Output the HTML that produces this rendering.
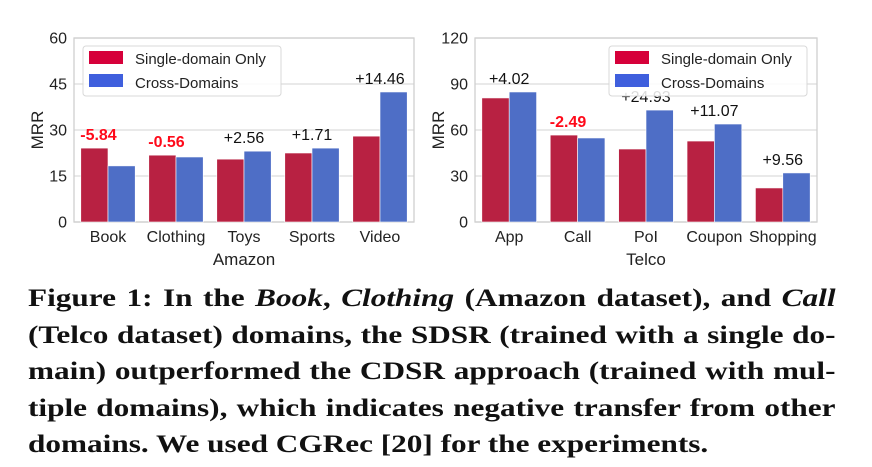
<!DOCTYPE html>
<html><head><meta charset="utf-8"><style>
body{margin:0;background:#fff;width:872px;height:467px;overflow:hidden;position:relative}
svg text{font-family:"Liberation Sans","DejaVu Sans",sans-serif}
.cap{position:absolute;left:28px;width:646px;font-family:"Liberation Serif",serif;font-weight:bold;font-size:25px;color:#111;line-height:36.5px;transform:scaleX(1.25);transform-origin:0 0}
.cap div{text-align:justify;text-align-last:justify;white-space:nowrap;height:36.5px}
.cap div.last{text-align-last:left}
</style></head><body>
<svg id="chart" width="872" height="280" style="position:absolute;left:0;top:0"></svg>
<div class="cap" style="top:281px">
<div>Figure 1: In the <i>Book</i>, <i>Clothing</i> (Amazon dataset), and <i>Call</i></div>
<div>(Telco dataset) domains, the SDSR (trained with a single do-</div>
<div>main) outperformed the CDSR approach (trained with mul-</div>
<div>tiple domains), which indicates negative transfer from other</div>
<div class="last">domains. We used CGRec [20] for the experiments.</div>
</div>
<script>
const amazonCats=["Book","Clothing","Toys","Sports","Video"];
const amazonSingle=[24.1,21.8,20.5,22.5,28.0];
const amazonCross=[18.3,21.2,23.1,24.1,42.4];
const amazonLabels=["-5.84","-0.56","+2.56","+1.71","+14.46"];
const amazonTicks=[0,15,30,45,60];
const telcoCats=["App","Call","PoI","Coupon","Shopping"];
const telcoSingle=[80.9,56.7,47.6,52.8,22.2];
const telcoCross=[84.8,54.8,73.0,63.9,32.0];
const telcoLabels=["+4.02","-2.49","+24.93","+11.07","+9.56"];
const telcoTicks=[0,30,60,90,120];

const NS="http://www.w3.org/2000/svg";
const svg=document.getElementById('chart');
function mk(tag,attrs,parent,txt){const e=document.createElementNS(NS,tag);for(const k in attrs)e.setAttribute(k,attrs[k]);if(txt!==undefined)e.textContent=txt;(parent||svg).appendChild(e);return e;}

function drawChart(o){
  const g=mk('g',{});
  
  
  const L=o.left,R=o.right,T=38,B=222,max=o.ticks[o.ticks.length-1];
  const y=v=>B-(v/max)*(B-T);
  const gw=(R-L)/o.cats.length, bw=gw*0.4;
  const x=i=>L+gw*i+gw*0.1;
  o.ticks.forEach(t=>{
    const ln=mk('line',{x1:L,x2:R,y1:y(t),y2:y(t),stroke:'#dcdcdc','stroke-width':1.3},g);
    
    
    const tx=mk('text',{x:L-7,y:y(t)+5.5,'text-anchor':'end','font-size':16,fill:'#222'},g,String(t));
    
    
  });
  const fr=mk('rect',{x:L,y:T,width:R-L,height:B-T,fill:'none',stroke:'#cfcfcf','stroke-width':1.3},g);
  
  
  o.cats.forEach((c,i)=>{
    const r1=mk('rect',{x:x(i),y:y(o.s1[i]),width:bw,height:B-y(o.s1[i]),fill:'#b82142',stroke:'#fff','stroke-width':0.6},g);
    
    
    const r2=mk('rect',{x:x(i)+bw,y:y(o.s2[i]),width:bw,height:B-y(o.s2[i]),fill:'#4e6ec6',stroke:'#fff','stroke-width':0.6},g);
    
    
    const xl=mk('text',{x:x(i)+bw,y:242,'text-anchor':'middle','font-size':16,fill:'#222'},g,c);
    
    
    const lab=o.labels[i],neg=lab[0]==='-';
    const top=y(Math.max(o.s1[i],o.s2[i]));
    const al=mk('text',{x:x(i)+bw+(neg?-bw*0.35:0),y:top-8,'text-anchor':'middle','font-size':16,'font-weight':neg?'bold':'normal',fill:neg?'#ff0a1a':'#111'},g,lab);
    
    
  });
  const yt=mk('text',{x:0,y:0,'text-anchor':'middle','font-size':17,fill:'#222',transform:`translate(${L-31},${(T+B)/2}) rotate(-90)`},g,'MRR');
  
  
  const xt=mk('text',{x:(L+R)/2,y:265,'text-anchor':'middle','font-size':17,fill:'#222'},g,o.title);
  
  
  const lg=mk('g',{},g);
  
  
  const lx=o.legX;
  mk('rect',{x:lx,y:46,width:198,height:50,rx:3,fill:'#fff','fill-opacity':0.85,stroke:'#d8d8d8'},lg);
  mk('rect',{x:lx+6,y:51,width:34,height:13,fill:'#d6003a'},lg);
  mk('rect',{x:lx+6,y:74,width:34,height:13,fill:'#3f5fdd'},lg);
  const t1=mk('text',{x:lx+52,y:64,'font-size':15,fill:'#222'},lg,'Single-domain Only');
  
  
  const t2=mk('text',{x:lx+52,y:88,'font-size':15,fill:'#222'},lg,'Cross-Domains');
  
  
}
drawChart({name:'amazon',left:74,right:414,cats:amazonCats,s1:amazonSingle,s2:amazonCross,labels:amazonLabels,ticks:amazonTicks,title:'Amazon',legX:83});
drawChart({name:'telco',left:475,right:817,cats:telcoCats,s1:telcoSingle,s2:telcoCross,labels:telcoLabels,ticks:telcoTicks,title:'Telco',legX:609});
</script>
</body></html>
